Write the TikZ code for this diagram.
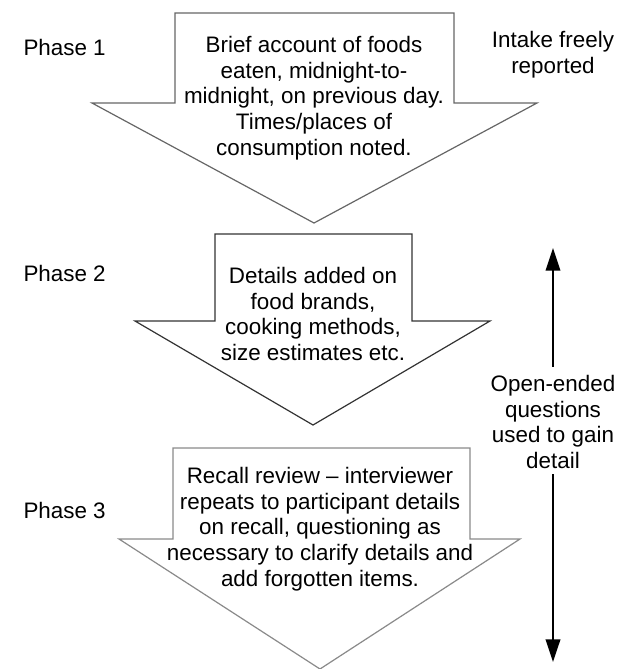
\documentclass[tikz,border=0pt]{standalone}
\usepackage{fontspec}
\setmainfont{Liberation Sans}
\usetikzlibrary{arrows.meta}

\definecolor{edgeone}{HTML}{666666}
\definecolor{edgetwo}{HTML}{333333}
\definecolor{edgethree}{HTML}{8A8A8A}

\tikzset{
  bigarrow/.style={line width=0.9pt, fill=white, line join=miter},
  arrowtext/.style={align=center, inner sep=0pt, font=\fontsize{16.8}{19.3}\selectfont},
  phaselabel/.style={anchor=east, inner sep=0pt, font=\fontsize{16.8}{19.3}\selectfont},
  sidearrow/.style={line width=1.2pt, -{Triangle[length=17pt,width=11pt]}},
}

\begin{document}
\begin{tikzpicture}[x=0.75pt,y=-0.75pt]
        \useasboundingbox (0,0) rectangle (627,669);

        % Phase 1 arrow
        \draw[bigarrow, draw=edgeone] (175,13) -- (454,13) -- (454,103) -- (537,103)
            -- (314,223) -- (92,103) -- (175,103) -- cycle;
        \node[arrowtext] (brief) at (314,98) {Brief account of foods\\eaten, midnight-to-\\midnight, on previous day.\\Times/places of\\consumption noted.};
        \node[phaselabel] (ph1) at (106,47) {Phase 1};
        \node[arrowtext] (intake) at (553,55) {Intake freely\\reported};

        % Phase 2 arrow
        \draw[bigarrow, draw=edgetwo] (215,234) -- (412,234) -- (412,321) -- (490,321)
            -- (313,425) -- (135,321) -- (215,321) -- cycle;
        \node[arrowtext] (detail) at (313,314) {Details added on\\food brands,\\cooking methods,\\size estimates etc.};
        \node[phaselabel] (ph2) at (106,273) {Phase 2};

        % Phase 3 arrow
        \draw[bigarrow, draw=edgethree] (173,448) -- (470,448) -- (470,539) -- (520,539)
            -- (320,669) -- (119,539) -- (173,539) -- cycle;
        \node[arrowtext] (review) at (320,529) {Recall review -- interviewer\\repeats to participant details\\on recall, questioning as\\necessary to clarify details and\\add forgotten items.};
        \node[phaselabel] (ph3) at (106,510) {Phase 3};

        % Side note with arrows
        \node[arrowtext] (openq) at (553,422) {Open-ended\\questions\\used to gain\\detail};
        \coordinate (uptip) at (553,248);
        \coordinate (dntip) at (553,662);
        \draw[sidearrow, shorten <=6pt] (openq.north) -- (uptip);
        \draw[sidearrow, shorten <=4pt] (openq.south) -- (dntip);
\end{tikzpicture}
\end{document}
